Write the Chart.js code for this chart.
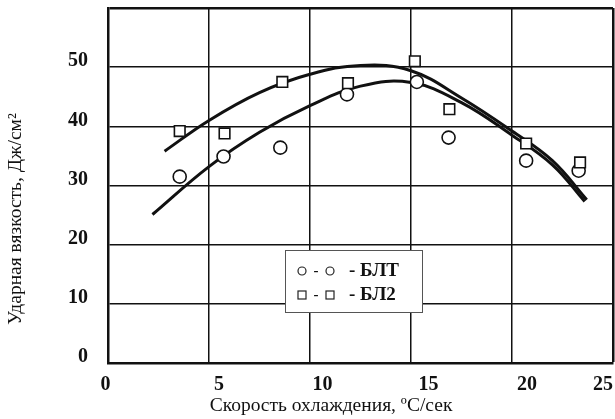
<!DOCTYPE html>
<html><head><meta charset="utf-8">
<script src="https://cdn.jsdelivr.net/npm/chart.js@4"></script>
<style>html,body{margin:0;padding:0;background:#fff}#wrap{width:615px;height:419px}canvas{display:block}</style>
</head><body>
<div id="wrap"><canvas id="c" width="615" height="419"></canvas></div>
<script>
// ---- data ----
const xTicks = [0, 5, 10, 15, 20, 25];
const yTicks = [0, 10, 20, 30, 40, 50, 60];
const bltX = [3.55, 5.72, 8.53, 11.83, 15.29, 16.86, 20.7, 23.3];
const bltY = [31.5, 34.9, 36.4, 45.4, 47.5, 38.1, 34.2, 32.5];
const bl2X = [3.55, 5.77, 8.63, 11.88, 15.19, 16.9, 20.7, 23.37];
const bl2Y = [39.2, 38.8, 47.5, 47.3, 51.0, 42.9, 37.1, 33.9];
const bltFitX = [2.2, 5, 7.5, 10, 12.5, 15, 17.5, 20, 22, 23.6];
const bltFitY = [25.1, 33.2, 39.0, 43.5, 46.8, 47.4, 44.0, 38.5, 33.5, 27.3];
const bl2FitX = [2.8, 5, 7.5, 10, 12.5, 15, 17.5, 20, 22, 23.7];
const bl2FitY = [35.8, 41.0, 45.7, 48.8, 50.3, 49.4, 44.8, 39.2, 34.2, 27.6];
const seriesNames = ['БЛТ', 'БЛ2'];
const xTitle = 'Скорость охлаждения, ºС/сек';
const yTitle = 'Ударная вязкость, Дж/см²';

const zip = (xs, ys) => xs.map((x, i) => ({x: x, y: ys[i]}));
const NB = '\u00a0';
// small shifts of the printed tick labels, as in the scanned original
const xLabelPad = {0: ['', NB], 5: [NB.repeat(4), ''], 10: [NB.repeat(5), ''], 15: [NB.repeat(7), ''], 20: [NB.repeat(6), ''], 25: ['', NB.repeat(4)]};
const SERIF = '"Liberation Serif", "DejaVu Serif", serif';

const overlay = {
  id: 'overlay',
  afterDraw(chart) {
    const ctx = chart.ctx;
    ctx.save();
    // legend box
    const bx = 285.5, by = 250.5, bw = 137, bh = 62;
    ctx.fillStyle = '#fff';
    ctx.fillRect(bx, by, bw, bh);
    ctx.strokeStyle = '#555';
    ctx.lineWidth = 1;
    ctx.strokeRect(bx, by, bw, bh);
    ctx.fillStyle = '#111';
    ctx.strokeStyle = '#222';
    ctx.lineWidth = 1.2;
    const rows = [271, 295];
    [302, 330].forEach(cx => { ctx.beginPath(); ctx.arc(cx, rows[0], 4, 0, Math.PI * 2); ctx.stroke(); });
    [302, 330].forEach(cx => { ctx.strokeRect(cx - 4, rows[1] - 4, 8, 8); });
    ctx.font = 'bold 15px ' + SERIF;
    ctx.textBaseline = 'middle';
    ctx.textAlign = 'center';
    ctx.fillText('-', 316, rows[0]);
    ctx.fillText('-', 316, rows[1]);
    ctx.textAlign = 'left';
    ctx.font = 'bold 19px ' + SERIF;
    ctx.fillText('- ' + seriesNames[0], 349, rows[0]);
    ctx.fillText('- ' + seriesNames[1], 349, rows[1]);
    // axis titles
    ctx.font = '19.5px ' + SERIF;
    ctx.fillStyle = '#111';
    ctx.textAlign = 'center';
    ctx.fillText(xTitle, 331, 406);
    ctx.translate(16, 219);
    ctx.rotate(-Math.PI / 2);
    ctx.fillText(yTitle, 0, 0);
    ctx.restore();
  }
};

new Chart(document.getElementById('c'), {
  type: 'scatter',
  data: {
    datasets: [
      {label: seriesNames[1], data: zip(bl2X, bl2Y), pointStyle: 'rect', pointRadius: 7.5, borderColor: '#111', backgroundColor: '#fff', borderWidth: 1.6, order: 0},
      {label: seriesNames[0], data: zip(bltX, bltY), pointStyle: 'circle', pointRadius: 6.5, borderColor: '#111', backgroundColor: '#fff', borderWidth: 1.6, order: 1},
      {type: 'line', label: seriesNames[1] + ' fit', data: zip(bl2FitX, bl2FitY), borderColor: '#111', borderWidth: 3, pointRadius: 0, tension: 0.4, fill: false, order: 2},
      {type: 'line', label: seriesNames[0] + ' fit', data: zip(bltFitX, bltFitY), borderColor: '#111', borderWidth: 3, pointRadius: 0, tension: 0.4, fill: false, order: 3}
    ]
  },
  options: {
    responsive: false,
    animation: false,
    layout: {autoPadding: false, padding: {top: 8, right: 2, left: 0, bottom: 0}},
    plugins: {legend: {display: false}, tooltip: {enabled: false}},
    scales: {
      x: {
        type: 'linear', min: 0, max: 25,
        afterBuildTicks: s => { s.ticks = xTicks.map(v => ({value: v})); },
        afterFit: s => { s.height = 56; s.paddingLeft = 0; s.paddingRight = 0; },
        grid: {color: '#111', lineWidth: c => (c.tick && c.tick.value === 25 ? 2.5 : 1.5), drawTicks: false},
        border: {color: '#111', width: 2.5},
        ticks: {
          color: '#111', padding: 10, maxRotation: 0, autoSkip: false,
          font: {family: SERIF, size: 20, weight: 'bold'},
          callback: v => { const p = xLabelPad[v] || ['', '']; return p[0] + v + p[1]; }
        }
      },
      y: {
        type: 'linear', min: 0, max: 60,
        afterBuildTicks: s => { s.ticks = yTicks.map(v => ({value: v})); },
        afterFit: s => { s.width = 108; s.paddingTop = 0; s.paddingBottom = 0; },
        grid: {color: '#111', lineWidth: c => (c.tick && c.tick.value === 60 ? 2.5 : 1.5), drawTicks: false},
        border: {color: '#111', width: 2.5},
        ticks: {
          color: '#111', padding: 20, labelOffset: -6,
          font: {family: SERIF, size: 20, weight: 'bold'},
          callback: v => (v === 60 ? '' : String(v))
        }
      }
    }
  },
  plugins: [overlay]
});
</script>
</body></html>
